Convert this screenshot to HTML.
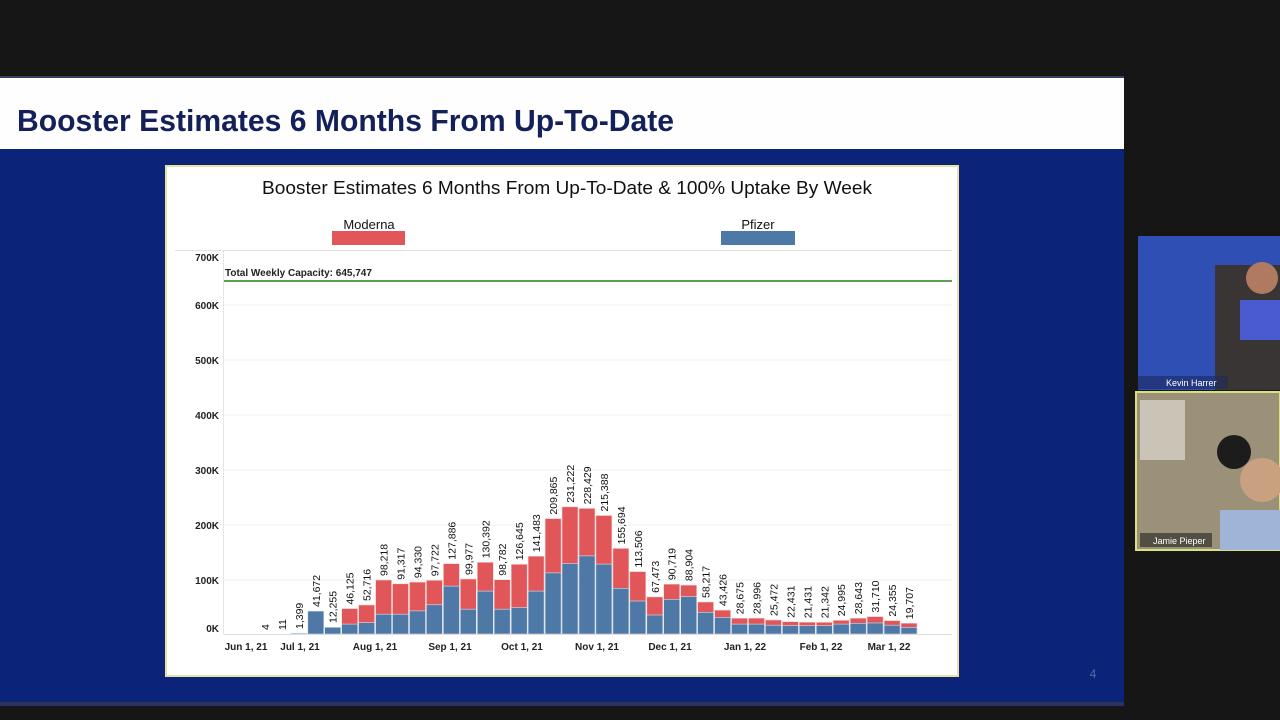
<!DOCTYPE html>
<html><head><meta charset="utf-8"><style>
html,body{margin:0;padding:0;background:#141414;width:1280px;height:720px;overflow:hidden}
svg{display:block}
</style></head><body>
<svg width="1280" height="720" viewBox="0 0 1280 720" xmlns="http://www.w3.org/2000/svg" font-family="Liberation Sans, DejaVu Sans, sans-serif">
<rect width="1280" height="720" fill="#161616"/>
<rect x="0" y="77" width="1124" height="628" fill="#0b2479"/>
<rect x="0" y="77" width="1124" height="72" fill="#fefefe"/>
<rect x="0" y="76" width="1124" height="2" fill="#3a3f6a"/>
<text x="17" y="131" font-size="31" font-weight="bold" fill="#13205a" textLength="657" lengthAdjust="spacingAndGlyphs">Booster Estimates 6 Months From Up-To-Date</text>
<rect x="0" y="702" width="1124" height="4" fill="#2a3360"/>
<text x="1093" y="678" font-size="12" fill="#5a6a9a" text-anchor="middle">4</text>
<rect x="166" y="166" width="792" height="510" fill="#ffffff" stroke="#e8e3a0" stroke-width="2"/>
<text x="567" y="194" font-size="18" fill="#111" text-anchor="middle" textLength="610" lengthAdjust="spacingAndGlyphs">Booster Estimates 6 Months From Up-To-Date &amp; 100% Uptake By Week</text>
<text x="369" y="229" font-size="13" fill="#111" text-anchor="middle">Moderna</text>
<rect x="332" y="231" width="73" height="14" fill="#e15759"/>
<text x="758" y="229" font-size="13" fill="#111" text-anchor="middle">Pfizer</text>
<rect x="721" y="231" width="74" height="14" fill="#4e79a7"/>
<line x1="175" y1="250.5" x2="952" y2="250.5" stroke="#e2e2e2"/>
<line x1="223.5" y1="251" x2="223.5" y2="634" stroke="#e6e6e6"/>
<g stroke="#f0f0f0">
<line x1="224" y1="305" x2="952" y2="305"/><line x1="224" y1="360" x2="952" y2="360"/>
<line x1="224" y1="415" x2="952" y2="415"/><line x1="224" y1="470" x2="952" y2="470"/>
<line x1="224" y1="525" x2="952" y2="525"/><line x1="224" y1="580" x2="952" y2="580"/>
</g>
<line x1="224" y1="634.5" x2="952" y2="634.5" stroke="#dcdcdc"/>
<g font-size="10" font-weight="bold" fill="#222" text-anchor="end">
<text x="219" y="261">700K</text><text x="219" y="309">600K</text><text x="219" y="364">500K</text>
<text x="219" y="419">400K</text><text x="219" y="474">300K</text><text x="219" y="529">200K</text>
<text x="219" y="584">100K</text><text x="219" y="632">0K</text>
</g>
<line x1="224" y1="281" x2="952" y2="281" stroke="#59a14f" stroke-width="2"/>
<text x="225" y="276" font-size="10" font-weight="bold" fill="#222">Total Weekly Capacity: 645,747</text>
<g fill="#e15759" stroke="#f4d6d6" stroke-width="0.6">
<rect x="341.7" y="608.6" width="16" height="25.4"/>
<rect x="358.6" y="605" width="16" height="29"/>
<rect x="375.6" y="580" width="16" height="54"/>
<rect x="392.5" y="583.8" width="16" height="50.2"/>
<rect x="409.5" y="582.1" width="16" height="51.9"/>
<rect x="426.4" y="580.3" width="16" height="53.7"/>
<rect x="443.4" y="563.7" width="16" height="70.3"/>
<rect x="460.3" y="579" width="16" height="55"/>
<rect x="477.3" y="562.3" width="16" height="71.7"/>
<rect x="494.2" y="579.7" width="16" height="54.3"/>
<rect x="511.2" y="564.3" width="16" height="69.7"/>
<rect x="528.1" y="556.2" width="16" height="77.8"/>
<rect x="545.1" y="518.6" width="16" height="115.4"/>
<rect x="562" y="506.8" width="16" height="127.2"/>
<rect x="579" y="508.4" width="16" height="125.6"/>
<rect x="595.9" y="515.5" width="16" height="118.5"/>
<rect x="612.9" y="548.4" width="16" height="85.6"/>
<rect x="629.8" y="571.6" width="16" height="62.4"/>
<rect x="646.8" y="596.9" width="16" height="37.1"/>
<rect x="663.7" y="584.1" width="16" height="49.9"/>
<rect x="680.7" y="585.1" width="16" height="48.9"/>
<rect x="697.6" y="602" width="16" height="32"/>
<rect x="714.6" y="610.1" width="16" height="23.9"/>
<rect x="731.5" y="618.2" width="16" height="15.8"/>
<rect x="748.5" y="618.1" width="16" height="15.9"/>
<rect x="765.4" y="620" width="16" height="14"/>
<rect x="782.4" y="621.7" width="16" height="12.3"/>
<rect x="799.3" y="622.2" width="16" height="11.8"/>
<rect x="816.3" y="622.3" width="16" height="11.7"/>
<rect x="833.2" y="620.3" width="16" height="13.7"/>
<rect x="850.2" y="618.2" width="16" height="15.8"/>
<rect x="867.1" y="616.6" width="16" height="17.4"/>
<rect x="884.1" y="620.6" width="16" height="13.4"/>
<rect x="901" y="623.2" width="16" height="10.8"/>
</g>
<g fill="#4e79a7" stroke="#d6e0ee" stroke-width="0.6">
<rect x="290.8" y="633.2" width="16" height="0.8"/>
<rect x="307.8" y="611.1" width="16" height="22.9"/>
<rect x="324.7" y="627.3" width="16" height="6.7"/>
<rect x="341.7" y="624.1" width="16" height="9.9"/>
<rect x="358.6" y="622.7" width="16" height="11.3"/>
<rect x="375.6" y="614.2" width="16" height="19.8"/>
<rect x="392.5" y="614.2" width="16" height="19.8"/>
<rect x="409.5" y="610.9" width="16" height="23.1"/>
<rect x="426.4" y="604.8" width="16" height="29.2"/>
<rect x="443.4" y="586.1" width="16" height="47.9"/>
<rect x="460.3" y="609.2" width="16" height="24.8"/>
<rect x="477.3" y="591.1" width="16" height="42.9"/>
<rect x="494.2" y="609.2" width="16" height="24.8"/>
<rect x="511.2" y="607.6" width="16" height="26.4"/>
<rect x="528.1" y="591.1" width="16" height="42.9"/>
<rect x="545.1" y="572.9" width="16" height="61.1"/>
<rect x="562" y="563.6" width="16" height="70.4"/>
<rect x="579" y="555.9" width="16" height="78.1"/>
<rect x="595.9" y="564.1" width="16" height="69.9"/>
<rect x="612.9" y="588.3" width="16" height="45.7"/>
<rect x="629.8" y="601" width="16" height="33"/>
<rect x="646.8" y="615" width="16" height="19"/>
<rect x="663.7" y="599.3" width="16" height="34.7"/>
<rect x="680.7" y="596.6" width="16" height="37.4"/>
<rect x="697.6" y="612.3" width="16" height="21.7"/>
<rect x="714.6" y="617.5" width="16" height="16.5"/>
<rect x="731.5" y="624.1" width="16" height="9.9"/>
<rect x="748.5" y="624.1" width="16" height="9.9"/>
<rect x="765.4" y="625.2" width="16" height="8.8"/>
<rect x="782.4" y="625.7" width="16" height="8.3"/>
<rect x="799.3" y="625.7" width="16" height="8.3"/>
<rect x="816.3" y="625.7" width="16" height="8.3"/>
<rect x="833.2" y="624.1" width="16" height="9.9"/>
<rect x="850.2" y="623.3" width="16" height="10.7"/>
<rect x="867.1" y="623" width="16" height="11"/>
<rect x="884.1" y="625.2" width="16" height="8.8"/>
<rect x="901" y="627.4" width="16" height="6.6"/>
</g>
<g font-size="10.5" fill="#111">
<text transform="translate(268.9,630) rotate(-90)">4</text>
<text transform="translate(285.9,630) rotate(-90)">11</text>
<text transform="translate(302.8,629) rotate(-90)">1,399</text>
<text transform="translate(319.8,607) rotate(-90)">41,672</text>
<text transform="translate(336.7,623) rotate(-90)">12,255</text>
<text transform="translate(353.7,604.6) rotate(-90)">46,125</text>
<text transform="translate(370.6,601) rotate(-90)">52,716</text>
<text transform="translate(387.6,576) rotate(-90)">98,218</text>
<text transform="translate(404.5,579.8) rotate(-90)">91,317</text>
<text transform="translate(421.5,578.1) rotate(-90)">94,330</text>
<text transform="translate(438.4,576.3) rotate(-90)">97,722</text>
<text transform="translate(455.4,559.7) rotate(-90)">127,886</text>
<text transform="translate(472.3,575) rotate(-90)">99,977</text>
<text transform="translate(489.3,558.3) rotate(-90)">130,392</text>
<text transform="translate(506.2,575.7) rotate(-90)">98,782</text>
<text transform="translate(523.2,560.3) rotate(-90)">126,645</text>
<text transform="translate(540.1,552.2) rotate(-90)">141,483</text>
<text transform="translate(557.1,514.6) rotate(-90)">209,865</text>
<text transform="translate(574,502.8) rotate(-90)">231,222</text>
<text transform="translate(591,504.4) rotate(-90)">228,429</text>
<text transform="translate(607.9,511.5) rotate(-90)">215,388</text>
<text transform="translate(624.9,544.4) rotate(-90)">155,694</text>
<text transform="translate(641.8,567.6) rotate(-90)">113,506</text>
<text transform="translate(658.8,592.9) rotate(-90)">67,473</text>
<text transform="translate(675.7,580.1) rotate(-90)">90,719</text>
<text transform="translate(692.7,581.1) rotate(-90)">88,904</text>
<text transform="translate(709.6,598) rotate(-90)">58,217</text>
<text transform="translate(726.6,606.1) rotate(-90)">43,426</text>
<text transform="translate(743.5,614.2) rotate(-90)">28,675</text>
<text transform="translate(760.5,614.1) rotate(-90)">28,996</text>
<text transform="translate(777.4,616) rotate(-90)">25,472</text>
<text transform="translate(794.4,617.7) rotate(-90)">22,431</text>
<text transform="translate(811.3,618.2) rotate(-90)">21,431</text>
<text transform="translate(828.3,618.3) rotate(-90)">21,342</text>
<text transform="translate(845.2,616.3) rotate(-90)">24,995</text>
<text transform="translate(862.2,614.2) rotate(-90)">28,643</text>
<text transform="translate(879.1,612.6) rotate(-90)">31,710</text>
<text transform="translate(896.1,616.6) rotate(-90)">24,355</text>
<text transform="translate(913,619.2) rotate(-90)">19,707</text>
</g>
<g font-size="10" font-weight="bold" fill="#222" text-anchor="middle">
<text x="246" y="650">Jun 1, 21</text><text x="300" y="650">Jul 1, 21</text>
<text x="375" y="650">Aug 1, 21</text><text x="450" y="650">Sep 1, 21</text>
<text x="522" y="650">Oct 1, 21</text><text x="597" y="650">Nov 1, 21</text>
<text x="670" y="650">Dec 1, 21</text><text x="745" y="650">Jan 1, 22</text>
<text x="821" y="650">Feb 1, 22</text><text x="889" y="650">Mar 1, 22</text>
</g>
<rect x="1138" y="236" width="142" height="154" fill="#2f4fb5"/>
<rect x="1215" y="265" width="65" height="125" fill="#3a3535"/>
<circle cx="1262" cy="278" r="16" fill="#b07a60"/>
<rect x="1240" y="300" width="40" height="40" fill="#4a5ad0"/>
<rect x="1138" y="376" width="90" height="13" fill="#1e2a60" opacity="0.6"/>
<text x="1166" y="386" font-size="9" fill="#fff">Kevin Harrer</text>
<rect x="1136" y="392" width="144" height="158" fill="#9a9178" stroke="#d7e27a" stroke-width="2"/>
<rect x="1140" y="400" width="45" height="60" fill="#c9c4b6"/>
<circle cx="1234" cy="452" r="17" fill="#1c1c1c"/>
<circle cx="1262" cy="480" r="22" fill="#c9a080"/>
<rect x="1220" y="510" width="60" height="40" fill="#9fb4d6"/>
<rect x="1140" y="533" width="72" height="14" fill="#222" opacity="0.6"/>
<text x="1153" y="544" font-size="9" fill="#fff">Jamie Pieper</text>
</svg>
</body></html>
